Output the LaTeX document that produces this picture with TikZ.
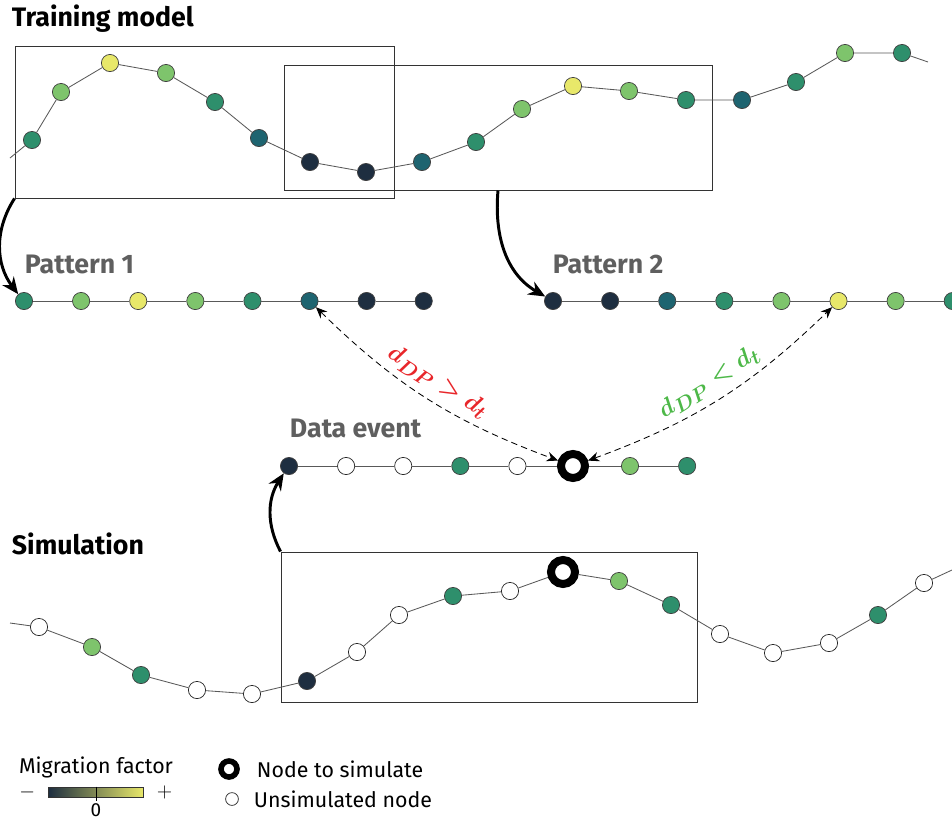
\documentclass[tikz,border=0pt]{standalone}
\usepackage{amsmath}
\usepackage{fontspec}
\setmainfont{Fira Sans}
\usepackage{xcolor}
\usepackage{tikz}
\usetikzlibrary{arrows.meta, positioning}

\definecolor{mfdark}{HTML}{1E2E40}
\definecolor{mfteal}{HTML}{1E6470}
\definecolor{mfmid}{HTML}{2E8F6C}
\definecolor{mflight}{HTML}{7EC46C}
\definecolor{mfyellow}{HTML}{E8E86A}
\definecolor{labelgray}{HTML}{5F5F5F}
\definecolor{farred}{HTML}{E8262A}
\definecolor{neargreen}{HTML}{4DB848}

\begin{document}
\begin{tikzpicture}[
  x=0.25mm, y=-0.25mm,
  node distance=9.8mm,
  dot/.style={circle, draw=black!75, line width=0.5pt, minimum size=4.3mm, inner sep=0pt},
  dk/.style={dot, fill=mfdark},
  tl/.style={dot, fill=mfteal},
  md/.style={dot, fill=mfmid},
  lt/.style={dot, fill=mflight},
  yl/.style={dot, fill=mfyellow},
  wh/.style={dot, fill=white, draw=black!85},
  target/.style={circle, draw=black, fill=white, line width=2mm, minimum size=6mm, inner sep=0pt},
  chain/.style={draw=black!65, line width=0.6pt},
  window/.style={rectangle, draw=black!80, line width=0.7pt, inner sep=0pt},
  title/.style={anchor=west, font=\bfseries\fontsize{19}{22}\selectfont},
  subtitle/.style={title, text=labelgray},
  legend/.style={anchor=west, font=\fontsize{15.2}{18}\selectfont},
  mathlabel/.style={midway, sloped, above=2pt, font=\fontsize{19}{22}\selectfont},
  arrow/.style={line width=2.1pt, -{Stealth[length=4.2mm, width=3.6mm]}},
  dashed_arrow/.style={dash pattern=on 4.5pt off 3pt, line width=0.6pt, {Stealth[length=2.8mm, width=2.4mm]}-{Stealth[length=2.8mm, width=2.4mm]}}
]
\useasboundingbox (0,0) rectangle (952,823);

% Titles
\node (train) [title] at (7,19) {Training model};
\node (simu) [title] at (7,544) {Simulation};

% Windows
\node (box1) [window, minimum width=94.75mm, minimum height=38mm] at (204.5,122) {};
\node (box2) [window, minimum width=107mm, minimum height=31.25mm] at (498,127.5) {};
\node (sbox) [window, minimum width=104mm, minimum height=37.5mm] at (489,627) {};

% Training series
\coordinate (t0) at (10,158);
\node (t1) [md] at (32,140) {};
\node (t2) [lt] at (61,92) {};
\node (t3) [yl] at (110,63) {};
\node (t4) [lt] at (166,73) {};
\node (t5) [md] at (215,102) {};
\node (t6) [tl] at (259,138) {};
\node (t7) [dk] at (310,162) {};
\node (t8) [dk] at (366,172) {};
\node (t9) [tl] at (422,162) {};
\node (t10) [md] at (476,142) {};
\node (t11) [lt] at (522,109) {};
\node (t12) [yl] at (573,86) {};
\node (t13) [lt] at (629,91) {};
\node (t14) [md] at (686,100) {};
\node (t15) [tl] at (742,100) {};
\node (t16) [md] at (796,82) {};
\node (t17) [lt] at (845,53) {};
\node (t18) [md] at (902,53) {};
\coordinate (t19) at (928,62);
\draw [chain] (t0) -- (t1) -- (t2) -- (t3) -- (t4) -- (t5) -- (t6) -- (t7) -- (t8) -- (t9)
  -- (t10) -- (t11) -- (t12) -- (t13) -- (t14) -- (t15) -- (t16) -- (t17) -- (t18) -- (t19);

% Pattern 1
\node (pat1) [subtitle] at (20,264) {Pattern 1};
\node (p1a) [md] at (24,301) {};
\node (p1b) [lt, right=of p1a] {};
\node (p1c) [yl, right=of p1b] {};
\node (p1d) [lt, right=of p1c] {};
\node (p1e) [md, right=of p1d] {};
\node (p1f) [tl, right=of p1e] {};
\node (p1g) [dk, right=of p1f] {};
\node (p1h) [dk, right=of p1g] {};
\draw [chain] (p1a) -- (p1b) -- (p1c) -- (p1d) -- (p1e) -- (p1f) -- (p1g) -- (p1h);

% Pattern 2
\node (pat2) [subtitle] at (548,264) {Pattern 2};
\node (p2a) [dk] at (553,301) {};
\node (p2b) [dk, right=of p2a] {};
\node (p2c) [tl, right=of p2b] {};
\node (p2d) [md, right=of p2c] {};
\node (p2e) [lt, right=of p2d] {};
\node (p2f) [yl, right=of p2e] {};
\node (p2g) [lt, right=of p2f] {};
\node (p2h) [md, right=of p2g] {};
\draw [chain] (p2a) -- (p2b) -- (p2c) -- (p2d) -- (p2e) -- (p2f) -- (p2g) -- (p2h);

% Data event
\node (devt) [subtitle] at (285,428) {Data event};
\node (de1) [dk] at (289,466) {};
\node (de2) [wh, right=of de1] {};
\node (de3) [wh, right=of de2] {};
\node (de4) [md, right=of de3] {};
\node (de5) [wh, right=of de4] {};
\node (de6) [target] at (573,466) {};
\node (de7) [lt] at (630,466) {};
\node (de8) [md, right=of de7] {};
\draw [chain] (de1) -- (de2) -- (de3) -- (de4) -- (de5) -- (de6) -- (de7) -- (de8);

% Simulation series
\coordinate (s0) at (10,623);
\node (s1) [wh] at (39,627) {};
\node (s2) [lt] at (92,647) {};
\node (s3) [md] at (141,675) {};
\node (s4) [wh] at (197,690) {};
\node (s5) [wh] at (252,694) {};
\node (s6) [dk] at (307,681) {};
\node (s7) [wh] at (357,652) {};
\node (s8) [wh] at (399,615) {};
\node (s9) [md] at (453,596) {};
\node (s10) [wh] at (510,591) {};
\node (s11) [target] at (563,572) {};
\node (s12) [lt] at (619,581) {};
\node (s13) [md] at (671,605) {};
\node (s14) [wh] at (720,634) {};
\node (s15) [wh] at (773,653) {};
\node (s16) [wh] at (829,643) {};
\node (s17) [md] at (878,615) {};
\node (s18) [wh] at (924,583) {};
\coordinate (s19) at (952,570);
\draw [chain] (s0) -- (s1) -- (s2) -- (s3) -- (s4) -- (s5) -- (s6) -- (s7) -- (s8) -- (s9)
  -- (s10) -- (s11) -- (s12) -- (s13) -- (s14) -- (s15) -- (s16) -- (s17) -- (s18) -- (s19);

% Arrows
\draw [arrow] (box1.south west) to[bend right=35] (p1a);
\draw [arrow] (box2.south) to[out=-95, in=150] (p2a);
\draw [arrow] (sbox.north west) to[bend left=30] (de1);
\draw [dashed_arrow] (p1f) to[bend right=12]
  node[mathlabel, text=farred] {$\boldsymbol{d_{DP} > d_t}$} (de6);
\draw [dashed_arrow] (de6) to[bend right=12]
  node[mathlabel, text=neargreen] {$\boldsymbol{d_{DP} < d_t}$} (p2f);

% Legend
\node (mig) [font=\fontsize{15.2}{18}\selectfont] at (96,767) {Migration factor};
\node (bar) [draw=black!80, line width=0.5pt, minimum width=23.75mm, minimum height=2.5mm, inner sep=0pt,
  left color=mfdark, middle color=mfmid, right color=mfyellow] at (96,792) {};
\draw [line width=0.5pt] (bar.north) -- ([yshift=-1mm]bar.south);
\node (zero) [font=\fontsize{13.5}{15}\selectfont, inner sep=1pt] at (96,810) {0};
\node (minus) [font=\fontsize{15}{17}\selectfont, left=2mm of bar] {$-$};
\node (plus) [font=\fontsize{15}{17}\selectfont, right=2mm of bar] {$+$};
\node (legring) [circle, draw=black, fill=white, line width=1.4mm, minimum size=4mm, inner sep=0pt] at (229,769) {};
\node (legringt) [legend] at (252,769) {Node to simulate};
\node (legwh) [circle, draw=black!85, fill=white, line width=0.5pt, minimum size=3.2mm, inner sep=0pt] at (232,799) {};
\node (legwht) [legend] at (249,799) {Unsimulated node};
\end{tikzpicture}
\end{document}
